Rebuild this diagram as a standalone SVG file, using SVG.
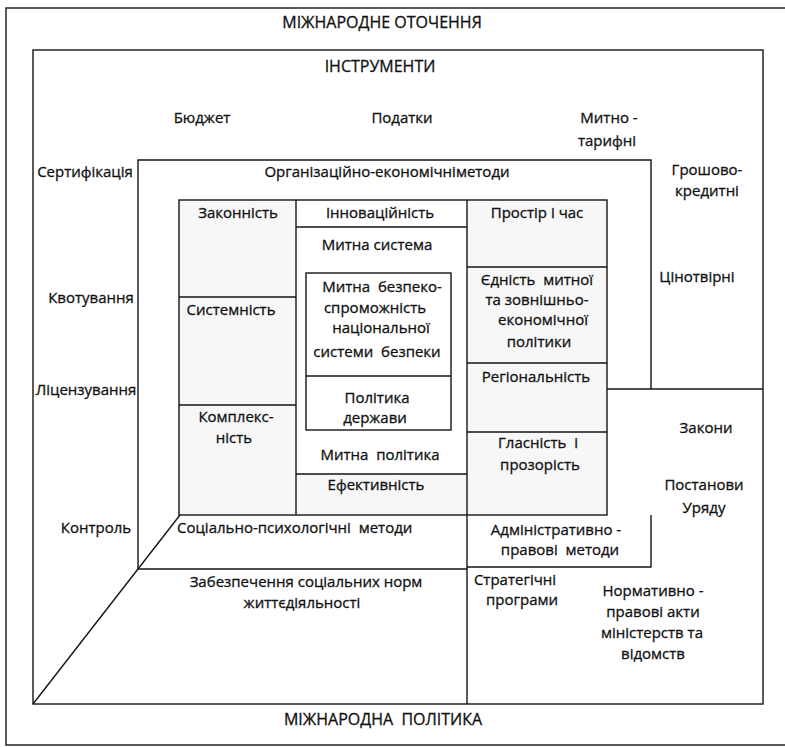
<svg xmlns="http://www.w3.org/2000/svg" width="785" height="747" viewBox="0 0 785 747">
  <style>
    .ln { fill: none; stroke: #151515; stroke-width: 1.4; }
    .cell { fill: #f7f7f7; stroke: none; }
    text { font-family: "Open Sans", "Noto Sans", sans-serif; font-size: 15px; fill: #111; stroke: #111; stroke-width: 0.3; text-anchor: middle; white-space: pre; }
    .cap { font-size: 16px; }
    .st { text-anchor: start; }
  </style>
  <rect width="785" height="747" fill="#fff"/>

  <!-- shaded principle cells -->
  <g id="shading">
    <rect class="cell" x="179" y="200" width="117" height="315"/>
    <rect class="cell" x="467" y="200" width="140" height="315"/>
    <rect class="cell" x="296" y="474" width="171" height="41"/>
  </g>

  <g id="connectors">
    <!-- outer environment frame -->
    <rect class="ln" x="6" y="8" width="800" height="737"/>
    <!-- instruments frame -->
    <rect class="ln" x="33" y="50" width="730" height="654"/>
    <!-- methods frame -->
    <path class="ln" d="M138,569 V160 H651 V389"/>
    <path class="ln" d="M607,389 H763"/>
    <path class="ln" d="M138,569 H467"/>
    <path class="ln" d="M651,515 V567 H467"/>
    <!-- perspective edge -->
    <path class="ln" d="M33,704 L180,515"/>
    <!-- principles grid -->
    <rect class="ln" x="179" y="200" width="428" height="315"/>
    <path class="ln" d="M296,200 V515"/>
    <path class="ln" d="M467,200 V704"/>
    <path class="ln" d="M179,297 H296 M179,405 H296"/>
    <path class="ln" d="M296,227 H467 M296,474 H467"/>
    <path class="ln" d="M467,267 H607 M467,363 H607 M467,432 H607"/>
    <!-- core box -->
    <rect class="ln" x="306" y="273" width="145" height="157"/>
    <path class="ln" d="M306,376 H451"/>
  </g>

  <g id="environment">
    <text class="cap" x="382" y="28">МІЖНАРОДНЕ ОТОЧЕННЯ</text>
    <text class="cap" x="383" y="725">МІЖНАРОДНА  ПОЛІТИКА</text>
  </g>

  <g id="instruments">
    <text class="cap" x="380" y="72">ІНСТРУМЕНТИ</text>
    <text x="202" y="123">Бюджет</text>
    <text x="402" y="123">Податки</text>
    <text x="609" y="123">Митно -</text>
    <text x="607" y="146">тарифні</text>
    <text x="85" y="177">Сертифікація</text>
    <text x="707" y="175">Грошово-</text>
    <text x="707" y="196">кредитні</text>
    <text x="91" y="303">Квотування</text>
    <text x="697" y="282">Цінотвірні</text>
    <text x="86" y="395">Ліцензування</text>
    <text x="706" y="433">Закони</text>
    <text x="704" y="490">Постанови</text>
    <text x="704" y="513">Уряду</text>
    <text x="96" y="533">Контроль</text>
    <text x="653" y="596">Нормативно -</text>
    <text x="653" y="617">правові акти</text>
    <text x="652" y="638">міністерств та</text>
    <text x="653" y="659">відомств</text>
  </g>

  <g id="methods">
    <text x="387" y="177">Організаційно-економічніметоди</text>
    <text class="st" x="177" y="533">Соціально-психологічні  методи</text>
    <text x="556" y="535">Адміністративно -</text>
    <text x="560" y="555">правові  методи</text>
    <text x="306" y="587">Забезпечення соціальних норм</text>
    <text x="302" y="608">життєдіяльності</text>
    <text x="515" y="585">Стратегічні</text>
    <text x="522" y="605">програми</text>
  </g>

  <g id="principles">
    <text x="238" y="218">Законність</text>
    <text x="231" y="315">Системність</text>
    <text x="236" y="422">Комплекс-</text>
    <text x="234" y="443">ність</text>
    <text x="380" y="218">Інноваційність</text>
    <text x="377" y="250">Митна система</text>
    <text x="380" y="460">Митна  політика</text>
    <text x="376" y="490">Ефективність</text>
    <text x="537" y="218">Простір і час</text>
    <text x="537" y="285">Єдність  митної</text>
    <text x="537" y="305">та зовнішньо-</text>
    <text x="543" y="325">економічної</text>
    <text x="539" y="347">політики</text>
    <text x="536" y="382">Регіональність</text>
    <text x="538" y="448">Гласність  і</text>
    <text x="540" y="470">прозорість</text>
  </g>

  <g id="core">
    <text x="382" y="292">Митна  безпеко-</text>
    <text x="375" y="313">спроможність</text>
    <text x="381" y="333">національної</text>
    <text x="377" y="357">системи  безпеки</text>
    <text x="377" y="403">Політика</text>
    <text x="375" y="423">держави</text>
  </g>
</svg>
